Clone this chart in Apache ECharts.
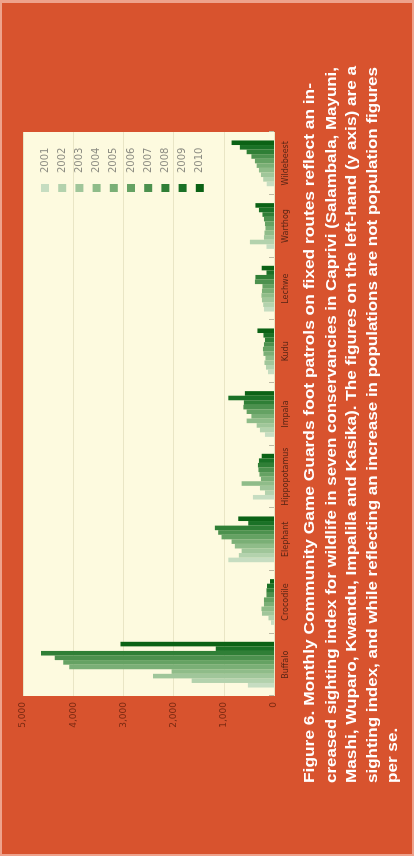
<!DOCTYPE html>
<html><head><meta charset="utf-8">
<script src="https://cdn.jsdelivr.net/npm/echarts@6/dist/echarts.min.js"></script>
<style>
html,body{margin:0;padding:0;width:414px;height:856px;overflow:hidden;background:#EEA28C;}
#wrap{position:absolute;left:2px;top:3px;width:410px;height:851px;overflow:hidden;}
#chart{position:absolute;left:0;top:0;width:851px;height:410px;transform-origin:0 0;transform:translateY(851px) rotate(-90deg);}
</style></head><body><div id="wrap"><div id="chart"></div></div>
<script>
const categories = ['Buffalo','Crocodile','Elephant','Hippopotamus','Impala','Kudu','Lechwe','Warthog','Wildebeest'];
const years = ['2001','2002','2003','2004','2005','2006','2007','2008','2009','2010'];
const v2001 = [520, 60, 910, 420, 180, 120, 200, 150, 145];
const v2002 = [1640, 110, 700, 180, 280, 160, 215, 480, 215];
const v2003 = [2410, 240, 645, 280, 345, 190, 240, 200, 260];
const v2004 = [2040, 250, 780, 645, 545, 170, 250, 190, 300];
const v2005 = [4080, 200, 845, 260, 450, 210, 240, 170, 345];
const v2006 = [4200, 200, 1045, 290, 545, 220, 230, 180, 380];
const v2007 = [4370, 150, 1112, 310, 610, 200, 380, 200, 450];
const v2008 = [4640, 150, 1178, 320, 600, 180, 370, 230, 545];
const v2009 = [1160, 140, 513, 300, 910, 210, 150, 300, 680];
const v2010 = [3060, 80, 712, 245, 580, 330, 245, 370, 845];
const yTickLabels = ['0','1,000','2,000','3,000','4,000','5,000'];
const captionLines = [
  'Figure 6. Monthly Community Game Guards foot patrols on fixed routes reflect an in-',
  'creased sighting index for wildlife in seven conservancies in Caprivi (Salambala, Mayuni,',
  'Mashi, Wuparo, Kwandu, Impalila and Kasika). The figures on the left-hand (y axis) are a',
  'sighting index, and while reflecting an increase in populations are not population figures',
  'per se.'
];

const values = [v2001, v2002, v2003, v2004, v2005, v2006, v2007, v2008, v2009, v2010];
const colors = ['#C6DDC1','#B3D2AD','#A0C69A','#8FBC89','#7AAF76','#65A263','#4C914E','#2F7F36','#1A7126','#0B6215'];

// caption layout (justified look: each full line stretched to the block width)
const capFont = 'bold 14.5px "Liberation Sans", Arial, sans-serif';
const capWidths = [700, 716, 717, 716, null];
const capCenters = [308, 329.5, 350, 370.5, 391];
const ctx = document.createElement('canvas').getContext('2d');
ctx.font = capFont;
const scales = captionLines.map((t, i) => capWidths[i] ? capWidths[i] / ctx.measureText(t).width : null);
const known = scales.filter(s => s);
const avgScale = known.reduce((a, b) => a + b, 0) / known.length;
const captionGraphics = captionLines.map((t, i) => ({
  type: 'text', x: 71, y: capCenters[i],
  scaleX: scales[i] || avgScale, scaleY: 1,
  style: {text: t, font: capFont, fill: '#FFFFFF', verticalAlign: 'middle', align: 'left'}
}));

const chart = echarts.init(document.getElementById('chart'), null, {width: 851, height: 410});
chart.setOption({
  animation: false,
  backgroundColor: '#D8532E',
  graphic: captionGraphics,
  legend: {
    orient: 'vertical', left: 657, top: 33,
    itemWidth: 8, itemHeight: 8, itemGap: 7.2, icon: 'rect',
    data: years,
    textStyle: {fontSize: 10, lineHeight: 8, color: '#8E8E84', fontFamily: 'DejaVu Sans', padding: [0,0,0,6]}
  },
  grid: {left: 158, right: 129, top: 21, bottom: 138, show: true, backgroundColor: '#FDFADF', borderWidth: 0},
  xAxis: {
    type: 'category', data: categories,
    axisLine: {show: false},
    axisTick: {show: true, inside: true, length: 5, lineStyle: {color: '#BDB9A3'}},
    axisLabel: {interval: 0, fontSize: 8, color: '#5A2616', margin: 8, fontFamily: 'DejaVu Sans'}
  },
  yAxis: {
    type: 'value', min: 0, max: 5000, interval: 1000,
    axisLine: {show: false}, axisTick: {show: false},
    splitLine: {lineStyle: {color: '#E9E5C5'}},
    axisLabel: {fontSize: 9, color: '#7A2A12', margin: 6, fontFamily: 'DejaVu Sans',
      formatter: v => yTickLabels[Math.round(v / 1000)]}
  },
  series: years.map((y, i) => ({
    name: y, type: 'bar', data: values[i],
    barGap: '0%', barCategoryGap: '27%',
    itemStyle: {color: colors[i]}
  }))
});
</script></body></html>
